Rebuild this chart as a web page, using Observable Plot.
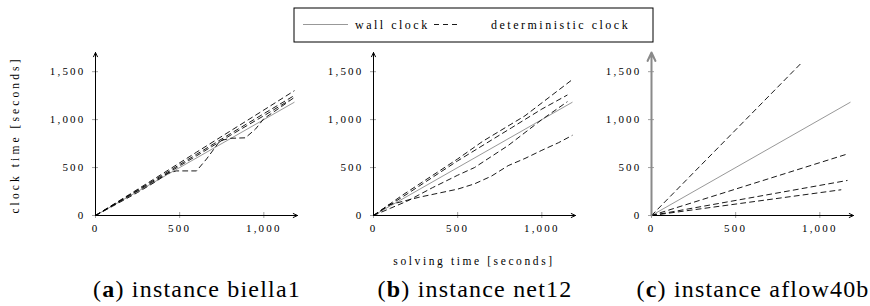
<!DOCTYPE html>
<html>
<head>
<meta charset="utf-8">
<script src="https://cdn.jsdelivr.net/npm/d3@7"></script>
<script src="https://cdn.jsdelivr.net/npm/@observablehq/plot@0.6"></script>
<style>
  html, body { margin: 0; padding: 0; background: #fff; }
  #page { position: relative; width: 870px; height: 306px; overflow: hidden; font-family: 'Liberation Serif', 'Times New Roman', Times, 'DejaVu Serif', 'Noto Serif', serif; }
  .panel { position: absolute; top: 40px; }
  .panel svg text { letter-spacing: 2.2px; font-family: 'Liberation Serif', 'Times New Roman', Times, 'DejaVu Serif', serif; }
  .lbl { position: absolute; font-size: 11.5px; letter-spacing: 2.6px; color: #000; white-space: nowrap; }
  .cap { position: absolute; top: 276px; font-size: 24px; white-space: nowrap; transform: translateX(-50%); letter-spacing: 1.2px; }
  .legtext { font-family: 'Liberation Serif', 'Times New Roman', Times, 'DejaVu Serif', serif; font-size: 12px; letter-spacing: 2.5px; }
</style>
</head>
<body>
<div id="page"></div>
<script>
// ---- data ----
const xTicks = [0, 500, 1000];
const yTicks = [0, 500, 1000, 1500];
const xMax = 1200;   // end of the solving-time axis (arrow tip)
const yMax = 1700;   // end of the clock-time axis (arrow tip)
const wallClock = [[0, 0], [1180, 1180]]; // wall clock: clock time = solving time

const panelNames = ["biella1", "net12", "aflow40b"];
const panelLetters = ["a", "b", "c"];

// deterministic clock runs: [solving time, clock time]
const biella1 = [
  [[0,0],[200,218],[400,438],[600,660],[800,880],[1000,1100],[1180,1300]],
  [[0,0],[200,212],[400,424],[600,638],[800,852],[1000,1062],[1180,1250]],
  [[0,0],[200,205],[400,412],[600,622],[800,835],[1000,1040],[1150,1200]],
  [[0,0],[100,95],[250,240],[350,345],[430,440],[480,465],[600,465],[660,590],[740,780],[800,805],[890,810],[950,900],[1000,1010],[1100,1130],[1180,1230]]
];
const net12 = [
  [[0,0],[170,210],[500,590],[650,775],[900,1040],[1180,1416]],
  [[0,0],[200,225],[500,570],[820,915],[1000,1110],[1150,1255]],
  [[0,0],[100,75],[200,150],[350,290],[500,420],[600,500],[800,730],[1000,1000],[1150,1185]],
  [[0,0],[90,110],[270,190],[500,275],[600,330],[700,410],[800,520],[900,595],[1000,680],[1100,760],[1180,835]]
];
const aflow40b = [
  [[0,0],[890,1590]],
  [[0,0],[1170,645]],
  [[0,0],[1162,365]],
  [[0,0],[1125,268]]
];
const runsByPanel = [biella1, net12, aflow40b];

// ---- drawing ----
const page = document.getElementById("page");
const fmt = d3.format(",");
const serif = "'Liberation Serif', 'Times New Roman', Times, 'DejaVu Serif', serif";

function toRows(runs) {
  const rows = [];
  runs.forEach((run, i) => run.forEach(([t, c]) => rows.push({run: i, t, c})));
  return rows;
}

runsByPanel.forEach((runs, k) => {
  const wall = wallClock.map(([t, c]) => ({t, c}));
  const axesArrows = [
    {x1: 0, y1: 0, x2: xMax, y2: 0, kind: "x"},
    {x1: 0, y1: 0, x2: 0, y2: yMax, kind: "y"}
  ];
  const yAxisColor = k === 2 ? "#8a8a8a" : "#000";
  const chart = Plot.plot({
    width: 302, height: 205,
    marginLeft: 95, marginRight: 5, marginTop: 12, marginBottom: 30,
    x: {domain: [0, xMax]},
    y: {domain: [0, yMax]},
    style: {fontFamily: serif, fontSize: "11px", color: "#000", background: "transparent", overflow: "visible"},
    marks: [
      Plot.axisX(xTicks, {tickSize: 6, dy: -3, tickPadding: 6, tickFormat: fmt, stroke: "#8a8a8a", strokeWidth: 0.8, fill: "#000", label: null}),
      Plot.axisY(yTicks, {tickSize: 6, dx: 3, tickPadding: 7, tickFormat: fmt, stroke: "#8a8a8a", strokeWidth: 0.8, fill: "#000", label: null}),
      Plot.line(wall, {x: "t", y: "c", stroke: "#8c8c8c", strokeWidth: 0.9}),
      Plot.line(toRows(runs), {x: "t", y: "c", z: "run", stroke: "#000", strokeWidth: 0.9, strokeDasharray: "5,4"}),
      Plot.arrow(axesArrows.filter(d => d.kind === "x"), {x1: "x1", y1: "y1", x2: "x2", y2: "y2", stroke: "#000", strokeWidth: 1, headLength: 7, headAngle: 50}),
      Plot.arrow(axesArrows.filter(d => d.kind === "y"), {x1: "x1", y1: "y1", x2: "x2", y2: "y2", stroke: yAxisColor, strokeWidth: k === 2 ? 2 : 1, headLength: 7, headAngle: 50})
    ]
  });
  const holder = document.createElement("div");
  holder.className = "panel";
  holder.style.left = (278 * k) + "px";
  holder.appendChild(chart);
  page.appendChild(holder);

  const cap = document.createElement("div");
  cap.className = "cap";
  cap.style.left = (197 + 278 * k) + "px";
  cap.innerHTML = "(<b>" + panelLetters[k] + "</b>) instance " + panelNames[k];
  page.appendChild(cap);
});

// axis titles
const yl = document.createElement("div");
yl.className = "lbl";
yl.textContent = "clock time [seconds]";
yl.style.letterSpacing = "3.1px";
yl.style.left = "15px"; yl.style.top = "135px";
yl.style.transform = "translate(-50%, -50%) rotate(-90deg)";
page.appendChild(yl);

const xl = document.createElement("div");
xl.className = "lbl";
xl.textContent = "solving time [seconds]";
xl.style.left = "474px"; xl.style.top = "255px";
xl.style.transform = "translateX(-50%)";
page.appendChild(xl);

// legend
const ns = "http://www.w3.org/2000/svg";
const leg = document.createElementNS(ns, "svg");
leg.setAttribute("width", 361); leg.setAttribute("height", 36);
leg.style.position = "absolute"; leg.style.left = "293px"; leg.style.top = "7px";
leg.innerHTML = `
  <rect x="1" y="1" width="359" height="34" fill="white" stroke="#000" stroke-width="1"/>
  <line x1="10" y1="17.5" x2="55" y2="17.5" stroke="#8c8c8c" stroke-width="0.9"/>
  <text class="legtext" x="62" y="21.5">wall clock</text>
  <line x1="141" y1="17.5" x2="167" y2="17.5" stroke="#000" stroke-width="0.9" stroke-dasharray="5,4"/>
  <text class="legtext" x="198" y="21.5">deterministic clock</text>`;
page.appendChild(leg);
</script>
</body>
</html>
